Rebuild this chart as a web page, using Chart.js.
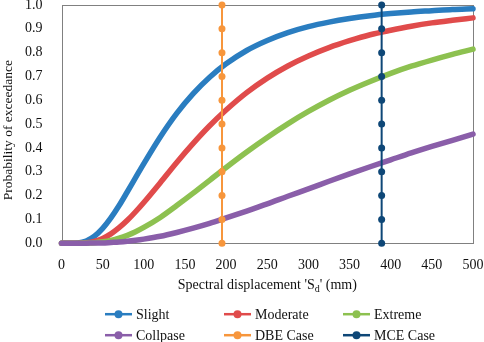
<!DOCTYPE html>
<html>
<head>
<meta charset="utf-8">
<script src="https://cdn.jsdelivr.net/npm/chart.js@4"></script>
<style>
  html, body { margin: 0; padding: 0; background: #fff; }
  #wrap { width: 484px; height: 342px; }
</style>
</head>
<body>
<div id="wrap"><canvas id="fragility"></canvas></div>
<script>
// spectral displacement Sd (mm)
const sd = [0, 10, 20, 30, 40, 50, 60, 70, 80, 90, 100, 120, 140, 160, 180, 200,
  225, 250, 275, 300, 325, 350, 375, 400, 425, 450, 475, 500];

const slight = [0, 0, 0.001, 0.009, 0.029, 0.062, 0.106, 0.158, 0.216, 0.275, 0.334,
  0.446, 0.545, 0.628, 0.697, 0.753, 0.809, 0.851, 0.884, 0.909, 0.928, 0.943,
  0.955, 0.964, 0.971, 0.976, 0.981, 0.984];
const moderate = [0, 0, 0, 0.002, 0.008, 0.020, 0.039, 0.065, 0.096, 0.132, 0.171,
  0.254, 0.339, 0.419, 0.493, 0.559, 0.632, 0.693, 0.744, 0.786, 0.821, 0.850,
  0.875, 0.894, 0.911, 0.925, 0.936, 0.946];
const extreme = [0, 0, 0, 0.001, 0.002, 0.006, 0.012, 0.021, 0.033, 0.048, 0.066,
  0.108, 0.158, 0.210, 0.264, 0.318, 0.383, 0.444, 0.501, 0.553, 0.600, 0.642,
  0.679, 0.713, 0.743, 0.769, 0.793, 0.815];
const collapse = [0, 0, 0, 0, 0.001, 0.001, 0.003, 0.005, 0.008, 0.012, 0.017,
  0.029, 0.045, 0.063, 0.083, 0.106, 0.135, 0.165, 0.197, 0.228, 0.260, 0.291,
  0.321, 0.350, 0.379, 0.406, 0.432, 0.458];

// design / maximum considered earthquake displacement demands
const dbeSd = 195;
const mceSd = 389;
const caseProb = [0, 0.1, 0.2, 0.3, 0.4, 0.5, 0.6, 0.7, 0.8, 0.9, 1.0];

const names = ["Slight", "Moderate", "Extreme", "Collpase", "DBE Case", "MCE Case"];
const colors = ["#2A7DC0", "#E04B4B", "#8DC150", "#8A5EA9", "#F7963C", "#0E4777"];

const FONT = "'Liberation Serif', 'Times New Roman', serif";

function toPoints(xs, ys) {
  return xs.map((x, i) => ({ x: x, y: ys[i] }));
}

function curve(idx, values) {
  return {
    label: names[idx],
    data: toPoints(sd, values),
    borderColor: colors[idx],
    backgroundColor: colors[idx],
    borderWidth: 5.5,
    borderCapStyle: "round",
    pointRadius: 0,
    cubicInterpolationMode: "monotone",
    clip: false,
    order: 6 - idx,
  };
}

function demandLine(idx, sdValue) {
  return {
    label: names[idx],
    data: caseProb.map((p) => ({ x: sdValue, y: p })),
    borderColor: colors[idx],
    backgroundColor: colors[idx],
    borderWidth: 2,
    pointRadius: 3.5,
    pointBorderWidth: 0,
    clip: false,
    order: 6 - idx,
  };
}

// plot frame, axis titles (x one has a subscript), and the two-row legend
const decorations = {
  id: "decorations",
  beforeDatasetsDraw(chart) {
    const ctx = chart.ctx;
    const area = chart.chartArea;
    ctx.save();
    ctx.strokeStyle = "#808080";
    ctx.lineWidth = 1;
    ctx.strokeRect(Math.round(area.left) + 0.5, Math.round(area.top) + 0.5,
      Math.round(area.right - area.left) - 1, Math.round(area.bottom - area.top));
    ctx.restore();
  },
  afterDraw(chart) {
    const ctx = chart.ctx;
    const area = chart.chartArea;
    ctx.save();
    ctx.fillStyle = "#111";

    // y axis title
    ctx.save();
    ctx.translate(8, (area.top + area.bottom) / 2 + 6);
    ctx.rotate(-Math.PI / 2);
    ctx.font = "13.5px " + FONT;
    ctx.textAlign = "center";
    ctx.textBaseline = "middle";
    ctx.fillText("Probability of exceedance", 0, 0);
    ctx.restore();

    // x axis title: Spectral displacement 'Sd' (mm)
    ctx.textBaseline = "alphabetic";
    const big = "14px " + FONT;
    const small = "10px " + FONT;
    const partA = "Spectral displacement 'S";
    const partB = "d";
    const partC = "' (mm)";
    ctx.font = big;
    const wA = ctx.measureText(partA).width;
    const wC = ctx.measureText(partC).width;
    ctx.font = small;
    const wB = ctx.measureText(partB).width;
    let x = (area.left + area.right) / 2 - (wA + wB + wC) / 2;
    const y = area.bottom + 46;
    ctx.font = big;
    ctx.fillText(partA, x, y);
    x += wA;
    ctx.font = small;
    ctx.fillText(partB, x, y + 3);
    x += wB;
    ctx.font = big;
    ctx.fillText(partC, x, y);

    // legend
    ctx.font = big;
    ctx.textBaseline = "middle";
    chart.data.datasets.forEach((ds, i) => {
      const col = i % 3;
      const row = Math.floor(i / 3);
      const lx = chart.width / 2 - 137 + col * 119;
      const ly = area.bottom + 71 + row * 21;
      ctx.strokeStyle = ds.borderColor;
      ctx.lineWidth = 2.5;
      ctx.beginPath();
      ctx.moveTo(lx, ly);
      ctx.lineTo(lx + 27, ly);
      ctx.stroke();
      ctx.fillStyle = ds.borderColor;
      ctx.beginPath();
      ctx.arc(lx + 13.5, ly, 4, 0, Math.PI * 2);
      ctx.fill();
      ctx.fillStyle = "#111";
      ctx.fillText(ds.label, lx + 31, ly + 1);
    });
    ctx.restore();
  },
};

document.addEventListener("DOMContentLoaded", function () {
  const data = {
    datasets: [
      curve(0, slight),
      curve(1, moderate),
      curve(2, extreme),
      curve(3, collapse),
      demandLine(4, dbeSd),
      demandLine(5, mceSd),
    ],
  };

  const config = {
    type: "line",
    data: data,
    options: {
      responsive: true,
      maintainAspectRatio: false,
      animation: false,
      layout: {
        padding: { top: 0, right: 0, left: 14, bottom: 62 },
      },
      scales: {
        x: {
          type: "linear",
          min: 0,
          max: 500,
          grid: { display: false },
          border: { display: false },
          afterFit: (scale) => {
            scale.paddingLeft = 0;
            scale.paddingRight = 11;
          },
          ticks: {
            stepSize: 50,
            color: "#111",
            padding: 6,
            font: { size: 14, family: FONT },
          },
        },
        y: {
          min: 0,
          max: 1,
          grid: { display: false },
          border: { display: false },
          afterFit: (scale) => {
            scale.paddingTop = 5;
            scale.paddingBottom = 0;
          },
          ticks: {
            stepSize: 0.1,
            color: "#111",
            padding: 11,
            font: { size: 14, family: FONT },
            callback: (v) => v.toFixed(1),
          },
        },
      },
      plugins: {
        legend: { display: false },
        tooltip: { enabled: false },
      },
    },
    plugins: [decorations],
  };

  const ctx = document.getElementById("fragility");
  new Chart(ctx, config);
});
</script>
</body>
</html>
